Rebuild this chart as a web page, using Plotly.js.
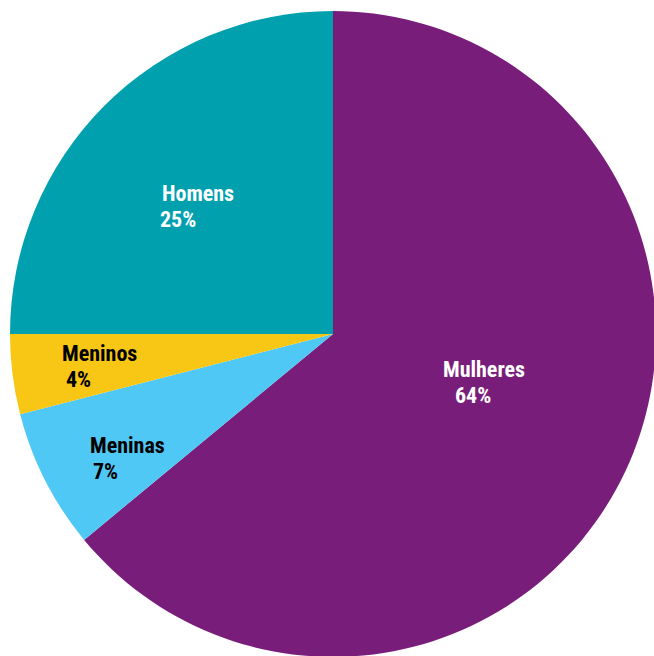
<!DOCTYPE html>
<html>
<head>
<meta charset="utf-8">
<script src="https://cdn.plot.ly/plotly-3.0.1.min.js"></script>
<style>
html,body{margin:0;padding:0;overflow:hidden;background:#fff;}
#chart{width:666px;height:668px;}
</style>
</head>
<body>
<div id="chart"></div>
<script>
// Data
var labels = ["Mulheres", "Meninas", "Meninos", "Homens"];
var values = [64, 7, 4, 25];
var colors = ["#781E7A", "#50C8F5", "#F8C615", "#00A0AF"];
var textColors = ["#FFFFFF", "#000000", "#000000", "#FFFFFF"];

// Layout config (pixel positions of label lines within the page)
var W = 666, H = 668;
var labelPos = [
  {nx: 442, ny: 368.75, px: 454, py: 395.25},
  {nx: 89, ny: 444.75, px: 92, py: 471.25},
  {nx: 61, ny: 352.75, px: 65, py: 379.25},
  {nx: 161, ny: 192.75, px: 159, py: 219.25}
];
var fontFamily = "'Roboto Condensed', Roboto, sans-serif";
var fontSize = 22;

var total = values.reduce(function(a, b){ return a + b; }, 0);
var annotations = [];
labels.forEach(function(lab, i){
  var pct = Math.round(values[i] / total * 100) + "%";
  var p = labelPos[i];
  [[lab, p.nx, p.ny], [pct, p.px, p.py]].forEach(function(t){
    annotations.push({
      text: "<b>" + t[0] + "</b>", x: t[1] / W, y: 1 - t[2] / H,
      xref: "paper", yref: "paper", xanchor: "left", yanchor: "middle",
      height: 22, borderpad: 0, valign: "middle",
      showarrow: false, font: {family: fontFamily, size: fontSize, color: textColors[i]}
    });
  });
});

var cx = 333, cy = 334, r = 323;
var trace = {
  type: "pie",
  labels: labels,
  values: values,
  sort: false,
  direction: "clockwise",
  rotation: 0,
  marker: {colors: colors, line: {width: 0}},
  textinfo: "none",
  hoverinfo: "label+percent",
  domain: {x: [(cx - r) / W, (cx + r) / W], y: [1 - (cy + r) / H, 1 - (cy - r) / H]}
};

var layout = {
  width: W, height: H,
  margin: {l: 0, r: 0, t: 0, b: 0, pad: 0},
  showlegend: false,
  paper_bgcolor: "#ffffff",
  annotations: annotations
};

Plotly.newPlot("chart", [trace], layout, {displayModeBar: false, staticPlot: true});
</script>
</body>
</html>
